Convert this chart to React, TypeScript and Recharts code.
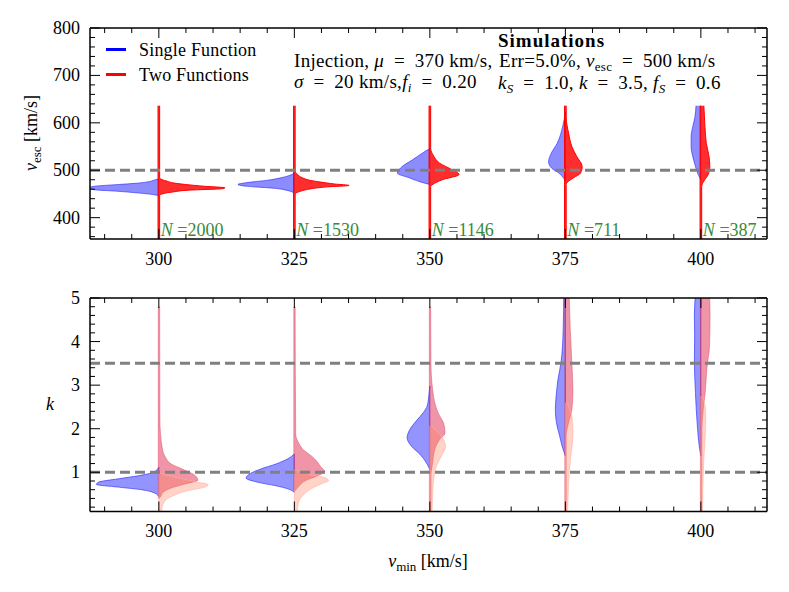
import React from 'react';
import { ComposedChart, Area, XAxis, YAxis, ReferenceLine, ReferenceDot } from 'recharts';

const FONT = '"Liberation Serif", "Times New Roman", serif';

// violin centres (v_min) and sample sizes
const centers = [300, 325, 350, 375, 400];
const sampleSizes = [2000, 1530, 1146, 711, 387];

const vminMinor = [290, 295, 305, 310, 315, 320, 330, 335, 340, 345, 355, 360, 365, 370, 380, 385, 390, 395, 405, 410];
const escTicks = [400, 500, 600, 700, 800];
const escMinor = [360, 380, 420, 440, 460, 480, 520, 540, 560, 580, 620, 640, 660, 680, 720, 740, 760, 780];
const kTicks = [1, 2, 3, 4, 5];
const kMinor = [0.2, 0.4, 0.6, 0.8, 1.2, 1.4, 1.6, 1.8, 2.2, 2.4, 2.6, 2.8, 3.2, 3.4, 3.6, 3.8, 4.2, 4.4, 4.6, 4.8];

const escTruth = [500];
const kTruth = [1.0, 3.5];

// half-violin profiles: [value, half width in v_min units]
const escSingle = [
  [[446, 0], [449, 1.2], [452, 3.7], [456, 8], [459, 12], [463, 12.8], [466, 12], [470, 7.4], [473, 3.7], [476, 1.8], [479, 0.9], [482, 0]],
  [[452, 0], [458, 1.5], [462, 3.7], [466, 8.6], [470, 10.4], [475, 8], [479, 4.9], [484, 2.5], [489, 0.9], [494, 0]],
  [[470, 0], [476, 1.9], [484, 3.8], [494, 6], [508, 5.1], [522, 3.2], [536, 1.4], [546, 0]],
  [[476, 0], [483, 0.3], [494, 1.2], [504, 2.5], [518, 3.1], [536, 2.6], [557, 1.5], [592, 0.5], [623, 0]],
  [[480, 0], [484, 0.2], [494, 0.6], [512, 1.1], [529, 1.5], [550, 1.8], [571, 1.8], [592, 1.5], [612, 1.1], [636, 0.9]],
];
const escTwo = [
  [[350, 0.15], [447, 0.15], [451, 0.9], [454, 2.5], [458, 5.5], [461, 11.6], [463, 12.2], [466, 8.6], [470, 4.9], [473, 2.8], [477, 1.5], [480, 0.6], [484, 0.15], [636, 0.15]],
  [[350, 0.15], [450, 0.15], [456, 1.2], [461, 3.1], [465, 6.1], [468, 10.1], [471, 7.4], [475, 4.9], [479, 2.8], [484, 1.5], [491, 0.6], [498, 0.15], [636, 0.15]],
  [[350, 0.15], [466, 0.15], [472, 0.8], [480, 2.3], [491, 5.4], [501, 4.1], [515, 1.8], [530, 0.7], [546, 0.15], [636, 0.15]],
  [[350, 0.15], [470, 0.15], [477, 0.6], [484, 1.5], [494, 2.8], [508, 3.1], [529, 2.1], [550, 1.2], [578, 0.6], [612, 0.15], [636, 0.15]],
  [[350, 0.15], [466, 0.15], [477, 0.55], [491, 1.35], [508, 1.65], [529, 1.5], [557, 1.0], [592, 0.75], [636, 0.55]],
];
const kSingle = [
  [[0.44, 0], [0.52, 0.7], [0.6, 3.2], [0.66, 7.5], [0.72, 11.5], [0.77, 11.2], [0.85, 7.5], [0.92, 3.8], [1.0, 1.0], [1.12, 0]],
  [[0.54, 0], [0.62, 1.2], [0.69, 3.4], [0.77, 6.7], [0.87, 8.9], [0.98, 8.0], [1.08, 6.1], [1.19, 3.4], [1.31, 1.2], [1.42, 0]],
  [[1.06, 0], [1.21, 0.6], [1.41, 1.8], [1.6, 3.4], [1.79, 4.2], [1.98, 3.7], [2.18, 2.5], [2.37, 1.2], [2.52, 0.5], [2.75, 0.2], [2.98, 0]],
  [[1.37, 0], [1.45, 0.2], [1.6, 0.6], [1.83, 1.05], [2.14, 1.65], [2.44, 1.85], [2.75, 1.7], [3.14, 1.35], [3.52, 0.8], [4.29, 0.4], [5.1, 0.3]],
  [[1.37, 0], [1.6, 0.3], [1.98, 0.6], [2.44, 0.85], [2.83, 1.0], [3.52, 1.2], [4.13, 1.15], [4.59, 1.2], [5.1, 1.0]],
];
const kTwo = [
  [[0.4, 0], [0.42, 0.2], [0.54, 0.8], [0.64, 2.3], [0.73, 4.8], [0.82, 7.2], [0.96, 6.3], [1.08, 4.2], [1.19, 2.3], [1.35, 1.2], [1.58, 0.6], [2.2, 0.2], [4.8, 0.15]],
  [[0.58, 0.2], [0.69, 0.9], [0.81, 2.1], [0.92, 4.3], [1.02, 5.6], [1.12, 4.9], [1.23, 4.3], [1.38, 3.1], [1.5, 1.8], [1.65, 0.9], [1.88, 0.25], [4.8, 0.15]],
  [[0.0, 0.2], [0.91, 0.2], [1.21, 0.5], [1.52, 0.9], [1.75, 1.8], [1.9, 2.8], [2.1, 2.6], [2.37, 1.5], [2.6, 0.9], [2.91, 0.5], [3.52, 0.2], [4.8, 0.15]],
  [[0.0, 0.15], [1.83, 0.15], [2.14, 0.6], [2.44, 1.2], [2.83, 1.4], [3.52, 1.2], [4.29, 0.9], [5.1, 0.7]],
  [[0.0, 0.15], [1.98, 0.2], [2.52, 0.5], [2.83, 0.8], [3.37, 1.1], [3.9, 1.6], [4.59, 1.7], [5.1, 1.6]],
];
const kSecond = [
  [[0.0, 0.5], [0.19, 0.6], [0.35, 1.2], [0.46, 2.6], [0.58, 5.4], [0.66, 8.5], [0.72, 9.1], [0.77, 7.2], [0.82, 5.5], [0.89, 2.9], [0.96, 0.8], [1.0, 0]],
  [[0.0, 0.5], [0.27, 0.7], [0.46, 1.5], [0.62, 3.1], [0.73, 4.9], [0.81, 6.3], [0.87, 5.8], [0.96, 2.5], [1.06, 0.3]],
  [[0.0, 0.4], [0.45, 0.5], [0.83, 0.7], [1.14, 1.2], [1.37, 2.1], [1.6, 2.9], [1.83, 2.1], [2.06, 0.3]],
  [[0.0, 0.4], [0.45, 0.5], [0.98, 0.7], [1.37, 1.0], [1.67, 1.3], [1.98, 1.4], [2.29, 1.2], [2.6, 0.3]],
  [[0.0, 0.3], [1.21, 0.5], [1.83, 0.8], [2.37, 0.9], [2.75, 0.3]],
];

const X_DOMAIN = [287.3, 412.2];

// one row per violin, used as the chart's base data
const markerRows = centers.map((x, i) => ({ x, n: sampleSizes[i] }));

// left half: baseline on the centre, outline on the outside
const leftHalf = (c: number, prof: number[][]) => prof.map(([y, w]) => ({ y, span: [c, c - w] }));
const rightHalf = (c: number, prof: number[][], lip: number) => prof.map(([y, w]) => ({ y, span: [c - lip, c + w] }));

const near = (list: number[], v: number) => list.some((m) => Math.abs(m - v) < 1e-6);

type Box = { top: number; bottom: number; left: number; right: number };

// x ticks: label for majors, inward marks on bottom and top edges
function xTick(box: Box) {
  return (p: any) => {
    const v = p.payload?.value;
    const major = near(centers, v);
    const len = major ? 10 : 5;
    return (
      <g>
        <line x1={p.x} y1={box.bottom} x2={p.x} y2={box.bottom - len} stroke="#000" />
        <line x1={p.x} y1={box.top} x2={p.x} y2={box.top + len} stroke="#000" />
        {major && (
          <text x={p.x} y={box.bottom + 25.5} textAnchor="middle" fill="#000" fontSize={18} fontFamily={FONT}>{v}</text>
        )}
      </g>
    );
  };
}

// y ticks: label for majors, inward marks on left and right edges
function yTick(box: Box, majors: number[]) {
  return (p: any) => {
    const v = p.payload?.value;
    const major = near(majors, v);
    const len = major ? 10 : 5;
    return (
      <g>
        <line x1={box.left} y1={p.y} x2={box.left + len} y2={p.y} stroke="#000" />
        <line x1={box.right} y1={p.y} x2={box.right - len} y2={p.y} stroke="#000" />
        {major && (
          <text x={box.left - 10} y={p.y + 6} textAnchor="end" fill="#000" fontSize={18} fontFamily={FONT}>{v}</text>
        )}
      </g>
    );
  };
}

const frame = { stroke: '#000', strokeWidth: 1.5 };

function axes(yDomain: number[], yTicks: number[], yMinor: number[], box: Box) {
  const xAll = [...centers, ...vminMinor].sort((a, b) => a - b);
  const yAll = [...yTicks, ...yMinor].sort((a, b) => a - b);
  return [
    <XAxis key="xb" type="number" domain={X_DOMAIN} ticks={xAll} interval={0} allowDataOverflow
      tickLine={false} tickSize={0} tickMargin={0} height={31} axisLine={frame} tick={xTick(box)} />,
    <XAxis key="xt" xAxisId="frameTop" orientation="top" type="number" domain={X_DOMAIN} allowDataOverflow
      mirror height={1} tickLine={false} tick={false} axisLine={frame} />,
    <YAxis key="yl" type="number" dataKey="y" domain={yDomain} ticks={yAll} interval={0} allowDataOverflow reversed
      tickLine={false} tickSize={0} tickMargin={0} width={90} axisLine={frame} tick={yTick(box, yTicks)} />,
    <YAxis key="yr" yAxisId="frameRight" orientation="right" type="number" dataKey="y" domain={yDomain} allowDataOverflow reversed
      mirror width={1} tickLine={false} tick={false} axisLine={frame} />,
  ];
}

const topBox: Box = { top: 28, bottom: 239, left: 90, right: 767 };
const bottomBox: Box = { top: 28, bottom: 241.5, left: 90, right: 767 };

const sub: React.CSSProperties = { fontSize: 13, lineHeight: 0, verticalAlign: -4 };
const textStyle: React.CSSProperties = {
  position: 'absolute', fontFamily: FONT, fontSize: 18, lineHeight: '18px', whiteSpace: 'pre', color: '#000',
};
const noteStyle: React.CSSProperties = { ...textStyle, fontSize: 19, letterSpacing: 0.3 };
const EQ = '\u2002=\u2002';

export default function App() {
  return (
    <div style={{ position: 'relative', width: 789, height: 592, background: '#fff' }}>
      <style>{'body{margin:0}'}</style>

      <div style={{ position: 'absolute', left: 0, top: 0 }}>
        <ComposedChart layout="vertical" data={markerRows} width={789} height={270} margin={{ top: 28, right: 22, left: 0, bottom: 0 }}>
          {axes([355, 800], escTicks, escMinor, topBox)}
          {centers.map((c, i) => (
            <Area key={'bs' + c} data={leftHalf(c, escSingle[i])} dataKey="span" type="monotone"
              fill="#0000ff" fillOpacity={0.45} stroke="#2020ff" strokeOpacity={0.6} strokeWidth={1}
              dot={false} activeDot={false} isAnimationActive={false} />
          ))}
          {centers.map((c, i) => (
            <Area key={'rt' + c} data={rightHalf(c, escTwo[i], 0.15)} dataKey="span" type="monotone"
              fill="#ff0000" fillOpacity={0.82} stroke="#ff0000" strokeWidth={1}
              dot={false} activeDot={false} isAnimationActive={false} />
          ))}
          {escTruth.map((v) => (
            <ReferenceLine key={'t' + v} y={v} stroke="#808080" strokeWidth={3} strokeDasharray="10 5" />
          ))}
          {markerRows.map((row) => (
            <ReferenceDot key={'n' + row.x} x={row.x} y={361} r={1} ifOverflow="visible"
              shape={(p: any) => (
                <text x={p.cx + 2} y={p.cy} fill="#3a8a3a" fontSize={18} fontFamily={FONT}>
                  <tspan fontStyle="italic">N</tspan>{' ='}{row.n}
                </text>
              )} />
          ))}
        </ComposedChart>
      </div>

      <div style={{ position: 'absolute', left: 0, top: 270 }}>
        <ComposedChart layout="vertical" data={markerRows} width={789} height={322} margin={{ top: 28, right: 22, left: 0, bottom: 49.5 }}>
          {axes([0.1, 5], kTicks, kMinor, bottomBox)}
          {centers.map((c, i) => (
            <Area key={'bk' + c} data={leftHalf(c, kSingle[i])} dataKey="span" type="monotone"
              fill="#0000ff" fillOpacity={0.42} stroke="#2020ff" strokeOpacity={0.6} strokeWidth={1}
              dot={false} activeDot={false} isAnimationActive={false} />
          ))}
          {centers.map((c, i) => (
            <Area key={'pk' + c} data={rightHalf(c, kTwo[i], 0.1)} dataKey="span" type="monotone"
              fill="#dc143c" fillOpacity={0.45} stroke="#e0405a" strokeOpacity={0.45} strokeWidth={1}
              dot={false} activeDot={false} isAnimationActive={false} />
          ))}
          {centers.map((c, i) => (
            <Area key={'sk' + c} data={rightHalf(c, kSecond[i], 0)} dataKey="span" type="monotone"
              fill="#ff8060" fillOpacity={0.35} stroke="#ffb0a0" strokeOpacity={0.6} strokeWidth={1}
              dot={false} activeDot={false} isAnimationActive={false} />
          ))}
          {kTruth.map((v) => (
            <ReferenceLine key={'k' + v} y={v} stroke="#808080" strokeWidth={3} strokeDasharray="10 5" />
          ))}
        </ComposedChart>
      </div>

      {/* legend */}
      <div style={{ position: 'absolute', left: 106, top: 48, width: 20, height: 3, background: '#0000ff' }} />
      <div style={{ ...textStyle, left: 139, top: 41, letterSpacing: 0.2 }}>Single Function</div>
      <div style={{ position: 'absolute', left: 106, top: 73, width: 20, height: 3, background: '#ff0000' }} />
      <div style={{ ...textStyle, left: 139, top: 66, letterSpacing: 0.2 }}>Two Functions</div>

      {/* annotation */}
      <div style={{ ...noteStyle, left: 498, top: 32, fontWeight: 'bold', letterSpacing: 1 }}>Simulations</div>
      <div style={{ ...noteStyle, left: 294, top: 51.5 }}>Injection, <i>μ</i>{EQ}370 km/s,</div>
      <div style={{ ...noteStyle, left: 499, top: 51.5 }}>Err=5.0%, <i>v</i><sub style={sub}>esc</sub>{EQ}500 km/s</div>
      <div style={{ ...noteStyle, left: 294, top: 73 }}><i>σ</i>{EQ}20 km/s,<i>f</i><sub style={sub}><i>i</i></sub>{EQ}0.20</div>
      <div style={{ ...noteStyle, left: 498, top: 74 }}>
        <i>k</i><sub style={sub}><i>S</i></sub>{EQ}1.0, <i>k</i>{EQ}3.5, <i>f</i><sub style={sub}><i>S</i></sub>{EQ}0.6
      </div>

      {/* axis titles */}
      <div style={{ ...textStyle, left: 31, top: 133, transform: 'translate(-50%, -50%) rotate(-90deg)' }}>
        <i>v</i><sub style={sub}>esc</sub> [km/s]
      </div>
      <div style={{ ...textStyle, left: 50, top: 404, transform: 'translate(-50%, -50%)' }}><i>k</i></div>
      <div style={{ ...textStyle, left: 428, top: 561, transform: 'translate(-50%, -50%)' }}>
        <i>v</i><sub style={sub}>min</sub> [km/s]
      </div>
    </div>
  );
}
